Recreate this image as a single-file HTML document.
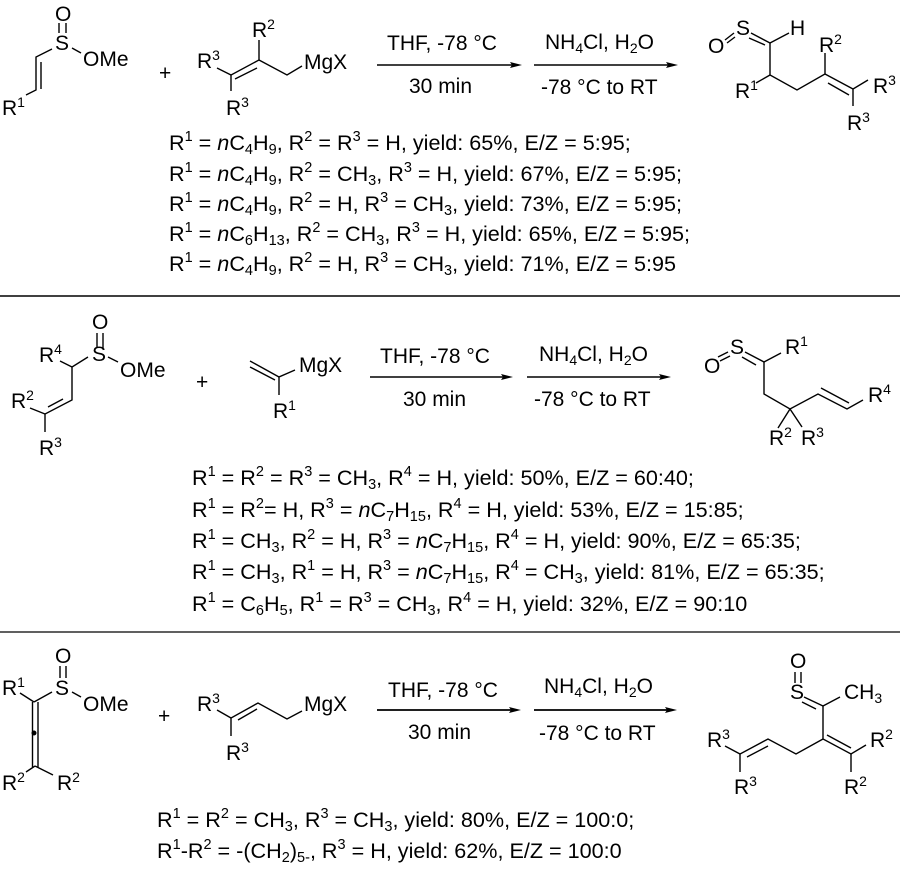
<!DOCTYPE html>
<html><head><meta charset="utf-8"><style>
html,body{margin:0;padding:0;background:#fff}
svg{display:block}
text{font-family:"Liberation Sans",sans-serif;font-size:21px;fill:#000}
.t text{font-size:21.6px}
.s{font-size:14px}
.t .s{font-size:14.5px}
.i{font-style:italic}
line,polyline{stroke:#000;stroke-width:1.4;fill:none}
polygon{fill:#000;stroke:none}
</style></head><body>
<svg width="900" height="871" viewBox="0 0 900 871" xmlns="http://www.w3.org/2000/svg">
<!-- Rxn 1 -->
<text x="55" y="21">O</text><text x="55" y="50">S</text><text x="83" y="66">OMe</text>
<line x1="59" y1="23" x2="59" y2="33"/><line x1="66" y1="23" x2="66" y2="33"/>
<polyline points="52,49 36,57 36,90 26,95"/><line x1="41" y1="62" x2="41" y2="89"/><line x1="72" y1="48" x2="81" y2="53"/>
<text x="2" y="115">R<tspan class="s" dy="-8">1</tspan></text>
<text x="159" y="80">+</text>
<text x="252" y="37">R<tspan class="s" dy="-8">2</tspan></text>
<text x="197" y="68">R<tspan class="s" dy="-8">3</tspan></text>
<text x="226" y="115">R<tspan class="s" dy="-8">3</tspan></text>
<text x="304" y="69">MgX</text>
<polyline points="259,40 259,60 231,75 231,91"/><line x1="217" y1="68" x2="231" y2="75"/><line x1="235" y1="79" x2="257" y2="68"/><polyline points="259,60 287,75 302,66"/>
<text x="387" y="50">THF, -78 °C</text><text x="409" y="93">30 min</text>
<line x1="377" y1="65" x2="512" y2="65"/><polygon points="522,65 510,62 512,65 510,68"/>
<text x="545" y="49">NH<tspan class="s" dy="4">4</tspan><tspan dy="-4">Cl, H</tspan><tspan class="s" dy="4">2</tspan><tspan dy="-4">O</tspan></text>
<text x="541" y="94">-78 °C to RT</text>
<line x1="534" y1="65" x2="668" y2="65"/><polygon points="678,65 666,62 668,65 666,68"/>
<text x="708" y="53">O</text><text x="736" y="35">S</text><text x="790" y="35">H</text>
<line x1="725" y1="40" x2="734" y2="33"/><line x1="727" y1="43" x2="735" y2="37"/>
<line x1="751" y1="33" x2="770" y2="43"/><line x1="749" y1="38" x2="765" y2="45"/><line x1="770" y1="43" x2="789" y2="33"/>
<polyline points="770,43 770,75 797,90 825,74 825,53"/><line x1="770" y1="75" x2="756" y2="83"/>
<line x1="825" y1="74" x2="853" y2="89"/><line x1="828" y1="83" x2="849" y2="95"/><polyline points="868,80 853,89 853,106"/>
<text x="735" y="98">R<tspan class="s" dy="-8">1</tspan></text>
<text x="819" y="52">R<tspan class="s" dy="-8">2</tspan></text>
<text x="873" y="93">R<tspan class="s" dy="-8">3</tspan></text>
<text x="847" y="130">R<tspan class="s" dy="-8">3</tspan></text>
<g class="t">
<text x="169" y="150">R<tspan class="s" dy="-9">1</tspan><tspan dy="9"> = </tspan><tspan class="i">n</tspan>C<tspan class="s" dy="4">4</tspan><tspan dy="-4">H</tspan><tspan class="s" dy="4">9</tspan><tspan dy="-4">, R</tspan><tspan class="s" dy="-9">2</tspan><tspan dy="9"> = R</tspan><tspan class="s" dy="-9">3</tspan><tspan dy="9"> = H, yield: 65%, E/Z = 5:95;</tspan></text>
<text x="169" y="181">R<tspan class="s" dy="-9">1</tspan><tspan dy="9"> = </tspan><tspan class="i">n</tspan>C<tspan class="s" dy="4">4</tspan><tspan dy="-4">H</tspan><tspan class="s" dy="4">9</tspan><tspan dy="-4">, R</tspan><tspan class="s" dy="-9">2</tspan><tspan dy="9"> = CH</tspan><tspan class="s" dy="4">3</tspan><tspan dy="-4">, R</tspan><tspan class="s" dy="-9">3</tspan><tspan dy="9"> = H, yield: 67%, E/Z = 5:95;</tspan></text>
<text x="169" y="211">R<tspan class="s" dy="-9">1</tspan><tspan dy="9"> = </tspan><tspan class="i">n</tspan>C<tspan class="s" dy="4">4</tspan><tspan dy="-4">H</tspan><tspan class="s" dy="4">9</tspan><tspan dy="-4">, R</tspan><tspan class="s" dy="-9">2</tspan><tspan dy="9"> = H, R</tspan><tspan class="s" dy="-9">3</tspan><tspan dy="9"> = CH</tspan><tspan class="s" dy="4">3</tspan><tspan dy="-4">, yield: 73%, E/Z = 5:95;</tspan></text>
<text x="169" y="241">R<tspan class="s" dy="-9">1</tspan><tspan dy="9"> = </tspan><tspan class="i">n</tspan>C<tspan class="s" dy="4">6</tspan><tspan dy="-4">H</tspan><tspan class="s" dy="4">13</tspan><tspan dy="-4">, R</tspan><tspan class="s" dy="-9">2</tspan><tspan dy="9"> = CH</tspan><tspan class="s" dy="4">3</tspan><tspan dy="-4">, R</tspan><tspan class="s" dy="-9">3</tspan><tspan dy="9"> = H, yield: 65%, E/Z = 5:95;</tspan></text>
<text x="169" y="271">R<tspan class="s" dy="-9">1</tspan><tspan dy="9"> = </tspan><tspan class="i">n</tspan>C<tspan class="s" dy="4">4</tspan><tspan dy="-4">H</tspan><tspan class="s" dy="4">9</tspan><tspan dy="-4">, R</tspan><tspan class="s" dy="-9">2</tspan><tspan dy="9"> = H, R</tspan><tspan class="s" dy="-9">3</tspan><tspan dy="9"> = CH</tspan><tspan class="s" dy="4">3</tspan><tspan dy="-4">, yield: 71%, E/Z = 5:95</tspan></text>
</g>
<line x1="0" y1="296" x2="900" y2="296" style="stroke-width:1.5"/>
<!-- Rxn 2 -->
<text x="92" y="329">O</text><text x="92" y="361">S</text><text x="120" y="377">OMe</text>
<line x1="97" y1="333" x2="97" y2="348"/><line x1="103" y1="333" x2="103" y2="348"/>
<polyline points="88,357 72,367 72,400 45,414 45,432"/><line x1="60" y1="361" x2="72" y2="367"/><line x1="48" y1="407" x2="63" y2="399"/><line x1="30" y1="408" x2="45" y2="414"/><line x1="108" y1="357" x2="118" y2="362"/>
<text x="39" y="362">R<tspan class="s" dy="-8">4</tspan></text>
<text x="11" y="408">R<tspan class="s" dy="-8">2</tspan></text>
<text x="39" y="455">R<tspan class="s" dy="-8">3</tspan></text>
<text x="196" y="389">+</text>
<line x1="250" y1="361" x2="279" y2="377"/><line x1="250" y1="367" x2="275" y2="380"/><polyline points="295,370 279,377 279,395"/>
<text x="299" y="372">MgX</text>
<text x="273" y="418">R<tspan class="s" dy="-8">1</tspan></text>
<text x="380" y="363">THF, -78 °C</text><text x="403" y="406">30 min</text>
<line x1="370" y1="377" x2="503" y2="377"/><polygon points="513,377 501,374 503,377 501,380"/>
<text x="539" y="361">NH<tspan class="s" dy="4">4</tspan><tspan dy="-4">Cl, H</tspan><tspan class="s" dy="4">2</tspan><tspan dy="-4">O</tspan></text>
<text x="534" y="406">-78 °C to RT</text>
<line x1="527" y1="377" x2="661" y2="377"/><polygon points="671,377 659,374 661,377 659,380"/>
<text x="704" y="373">O</text><text x="730" y="354">S</text>
<line x1="718" y1="357" x2="728" y2="352"/><line x1="720" y1="361" x2="730" y2="356"/>
<line x1="745" y1="352" x2="764" y2="362"/><line x1="742" y1="357" x2="756" y2="365"/><line x1="764" y1="362" x2="781" y2="353"/>
<polyline points="764,362 764,394 790,409 818,394 847,409 863,400"/><line x1="821" y1="388" x2="849" y2="403"/><line x1="790" y1="409" x2="778" y2="428"/><line x1="790" y1="409" x2="802" y2="427"/>
<text x="785" y="354">R<tspan class="s" dy="-8">1</tspan></text>
<text x="868" y="402">R<tspan class="s" dy="-8">4</tspan></text>
<text x="769" y="445">R<tspan class="s" dy="-8">2</tspan></text>
<text x="801" y="445">R<tspan class="s" dy="-8">3</tspan></text>
<g class="t">
<text x="192" y="485">R<tspan class="s" dy="-9">1</tspan><tspan dy="9"> = R</tspan><tspan class="s" dy="-9">2</tspan><tspan dy="9"> = R</tspan><tspan class="s" dy="-9">3</tspan><tspan dy="9"> = CH</tspan><tspan class="s" dy="4">3</tspan><tspan dy="-4">, R</tspan><tspan class="s" dy="-9">4</tspan><tspan dy="9"> = H, yield: 50%, E/Z = 60:40;</tspan></text>
<text x="192" y="517">R<tspan class="s" dy="-9">1</tspan><tspan dy="9"> = R</tspan><tspan class="s" dy="-9">2</tspan><tspan dy="9">= H, R</tspan><tspan class="s" dy="-9">3</tspan><tspan dy="9"> = </tspan><tspan class="i">n</tspan>C<tspan class="s" dy="4">7</tspan><tspan dy="-4">H</tspan><tspan class="s" dy="4">15</tspan><tspan dy="-4">, R</tspan><tspan class="s" dy="-9">4</tspan><tspan dy="9"> = H, yield: 53%, E/Z = 15:85;</tspan></text>
<text x="192" y="548">R<tspan class="s" dy="-9">1</tspan><tspan dy="9"> = CH</tspan><tspan class="s" dy="4">3</tspan><tspan dy="-4">, R</tspan><tspan class="s" dy="-9">2</tspan><tspan dy="9"> = H, R</tspan><tspan class="s" dy="-9">3</tspan><tspan dy="9"> = </tspan><tspan class="i">n</tspan>C<tspan class="s" dy="4">7</tspan><tspan dy="-4">H</tspan><tspan class="s" dy="4">15</tspan><tspan dy="-4">, R</tspan><tspan class="s" dy="-9">4</tspan><tspan dy="9"> = H, yield: 90%, E/Z = 65:35;</tspan></text>
<text x="192" y="579">R<tspan class="s" dy="-9">1</tspan><tspan dy="9"> = CH</tspan><tspan class="s" dy="4">3</tspan><tspan dy="-4">, R</tspan><tspan class="s" dy="-9">1</tspan><tspan dy="9"> = H, R</tspan><tspan class="s" dy="-9">3</tspan><tspan dy="9"> = </tspan><tspan class="i">n</tspan>C<tspan class="s" dy="4">7</tspan><tspan dy="-4">H</tspan><tspan class="s" dy="4">15</tspan><tspan dy="-4">, R</tspan><tspan class="s" dy="-9">4</tspan><tspan dy="9"> = CH</tspan><tspan class="s" dy="4">3</tspan><tspan dy="-4">, yield: 81%, E/Z = 65:35;</tspan></text>
<text x="192" y="611">R<tspan class="s" dy="-9">1</tspan><tspan dy="9"> = C</tspan><tspan class="s" dy="4">6</tspan><tspan dy="-4">H</tspan><tspan class="s" dy="4">5</tspan><tspan dy="-4">, R</tspan><tspan class="s" dy="-9">1</tspan><tspan dy="9"> = R</tspan><tspan class="s" dy="-9">3</tspan><tspan dy="9"> = CH</tspan><tspan class="s" dy="4">3</tspan><tspan dy="-4">, R</tspan><tspan class="s" dy="-9">4</tspan><tspan dy="9"> = H, yield: 32%, E/Z = 90:10</tspan></text>
</g>
<line x1="0" y1="632" x2="900" y2="632" style="stroke-width:1.2"/>
<!-- Rxn 3 -->
<text x="55" y="663">O</text><text x="55" y="695">S</text><text x="83" y="711">OMe</text>
<line x1="60" y1="666" x2="60" y2="678"/><line x1="66" y1="666" x2="66" y2="678"/>
<line x1="34" y1="702" x2="52" y2="692"/><line x1="72" y1="692" x2="81" y2="697"/><line x1="20" y1="693" x2="34" y2="702"/>
<line x1="32.5" y1="702" x2="32.5" y2="767"/><line x1="38" y1="702" x2="38" y2="767"/><circle cx="34" cy="733" r="2.5"/>
<line x1="26" y1="772" x2="35" y2="766"/><line x1="35" y1="766" x2="53" y2="775"/>
<text x="2" y="695">R<tspan class="s" dy="-8">1</tspan></text>
<text x="2" y="790">R<tspan class="s" dy="-8">2</tspan></text>
<text x="57" y="790">R<tspan class="s" dy="-8">2</tspan></text>
<text x="158" y="723">+</text>
<text x="197" y="711">R<tspan class="s" dy="-8">3</tspan></text>
<text x="226" y="760">R<tspan class="s" dy="-8">3</tspan></text>
<text x="304" y="711">MgX</text>
<line x1="217" y1="710" x2="231" y2="718"/><polyline points="231,736 231,718 258,703 287,719 302,711"/><line x1="238" y1="720" x2="257" y2="709"/>
<text x="388" y="697">THF, -78 °C</text><text x="408" y="739">30 min</text>
<line x1="377" y1="710" x2="511" y2="710" style="stroke-width:1.8"/><polygon points="521,710 509,707 511,710 509,713"/>
<text x="544" y="693">NH<tspan class="s" dy="4">4</tspan><tspan dy="-4">Cl, H</tspan><tspan class="s" dy="4">2</tspan><tspan dy="-4">O</tspan></text>
<text x="539" y="740">-78 °C to RT</text>
<line x1="534" y1="710" x2="667" y2="710" style="stroke-width:1.8"/><polygon points="677,710 665,707 667,710 665,713"/>
<text x="790" y="668">O</text><text x="790" y="699">S</text>
<line x1="795" y1="672" x2="795" y2="683"/><line x1="801" y1="672" x2="801" y2="683"/>
<line x1="804" y1="697" x2="823" y2="706"/><line x1="802" y1="702" x2="816" y2="709"/><line x1="823" y1="706" x2="840" y2="697"/>
<text x="844" y="699">CH<tspan class="s" dy="4">3</tspan></text>
<polyline points="823,706 823,739 851,754 866,745"/><line x1="827" y1="735" x2="851" y2="748"/><line x1="851" y1="754" x2="851" y2="772"/>
<polyline points="823,739 796,754 768,739 740,754 740,772"/><line x1="747" y1="757" x2="768" y2="746"/><line x1="725" y1="746" x2="740" y2="754"/>
<text x="870" y="747">R<tspan class="s" dy="-8">2</tspan></text>
<text x="844" y="794">R<tspan class="s" dy="-8">2</tspan></text>
<text x="707" y="747">R<tspan class="s" dy="-8">3</tspan></text>
<text x="734" y="794">R<tspan class="s" dy="-8">3</tspan></text>
<g class="t">
<text x="157" y="827">R<tspan class="s" dy="-9">1</tspan><tspan dy="9"> = R</tspan><tspan class="s" dy="-9">2</tspan><tspan dy="9"> = CH</tspan><tspan class="s" dy="4">3</tspan><tspan dy="-4">, R</tspan><tspan class="s" dy="-9">3</tspan><tspan dy="9"> = CH</tspan><tspan class="s" dy="4">3</tspan><tspan dy="-4">, yield: 80%, E/Z = 100:0;</tspan></text>
<text x="157" y="858">R<tspan class="s" dy="-9">1</tspan><tspan dy="9">-R</tspan><tspan class="s" dy="-9">2</tspan><tspan dy="9"> = -(CH</tspan><tspan class="s" dy="4">2</tspan><tspan dy="-4">)</tspan><tspan class="s" dy="4">5-</tspan><tspan dy="-4">, R</tspan><tspan class="s" dy="-9">3</tspan><tspan dy="9"> = H, yield: 62%, E/Z = 100:0</tspan></text>
</g>
</svg>
</body></html>
